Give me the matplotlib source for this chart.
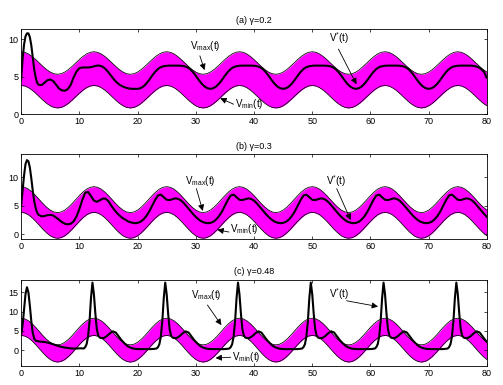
import matplotlib
matplotlib.use("Agg")
import matplotlib.pyplot as plt
import numpy as np

plt.rcParams["font.family"] = ["Liberation Sans", "DejaVu Sans"]
plt.rcParams["mathtext.default"] = "regular"

# --- Datos ---
# malla de tiempo de las bandas (paso 0.625)
t_banda = np.arange(0, 80.001, 0.625)

vmax_a = [
    8.35, 8.28, 8.06, 7.73, 7.31, 6.85, 6.39, 5.97, 5.64, 5.42, 5.35, 5.42, 5.64, 5.97, 6.39, 6.85, 7.31, 7.73, 8.06, 8.28,
    8.35, 8.28, 8.06, 7.73, 7.31, 6.85, 6.39, 5.97, 5.64, 5.42, 5.35, 5.42, 5.64, 5.97, 6.39, 6.85, 7.31, 7.73, 8.06, 8.28,
    8.35, 8.28, 8.06, 7.73, 7.31, 6.85, 6.39, 5.97, 5.64, 5.42, 5.35, 5.42, 5.64, 5.97, 6.39, 6.85, 7.31, 7.73, 8.06, 8.28,
    8.35, 8.28, 8.06, 7.73, 7.31, 6.85, 6.39, 5.97, 5.64, 5.42, 5.35, 5.42, 5.64, 5.97, 6.39, 6.85, 7.31, 7.73, 8.06, 8.28,
    8.35, 8.28, 8.06, 7.73, 7.31, 6.85, 6.39, 5.97, 5.64, 5.42, 5.35, 5.42, 5.64, 5.97, 6.39, 6.85, 7.31, 7.73, 8.06, 8.28,
    8.35, 8.28, 8.06, 7.73, 7.31, 6.85, 6.39, 5.97, 5.64, 5.42, 5.35, 5.42, 5.64, 5.97, 6.39, 6.85, 7.31, 7.73, 8.06, 8.28,
    8.35, 8.28, 8.06, 7.73, 7.31, 6.85, 6.39, 5.97, 5.64,
]
vmin_a = [
    3.85, 3.78, 3.56, 3.23, 2.81, 2.35, 1.89, 1.47, 1.14, 0.92, 0.85, 0.92, 1.14, 1.47, 1.89, 2.35, 2.81, 3.23, 3.56, 3.78,
    3.85, 3.78, 3.56, 3.23, 2.81, 2.35, 1.89, 1.47, 1.14, 0.92, 0.85, 0.92, 1.14, 1.47, 1.89, 2.35, 2.81, 3.23, 3.56, 3.78,
    3.85, 3.78, 3.56, 3.23, 2.81, 2.35, 1.89, 1.47, 1.14, 0.92, 0.85, 0.92, 1.14, 1.47, 1.89, 2.35, 2.81, 3.23, 3.56, 3.78,
    3.85, 3.78, 3.56, 3.23, 2.81, 2.35, 1.89, 1.47, 1.14, 0.92, 0.85, 0.92, 1.14, 1.47, 1.89, 2.35, 2.81, 3.23, 3.56, 3.78,
    3.85, 3.78, 3.56, 3.23, 2.81, 2.35, 1.89, 1.47, 1.14, 0.92, 0.85, 0.92, 1.14, 1.47, 1.89, 2.35, 2.81, 3.23, 3.56, 3.78,
    3.85, 3.78, 3.56, 3.23, 2.81, 2.35, 1.89, 1.47, 1.14, 0.92, 0.85, 0.92, 1.14, 1.47, 1.89, 2.35, 2.81, 3.23, 3.56, 3.78,
    3.85, 3.78, 3.56, 3.23, 2.81, 2.35, 1.89, 1.47, 1.14,
]

vmax_b = [
    8.35, 8.24, 7.92, 7.41, 6.78, 6.08, 5.38, 4.75, 4.24, 3.92, 3.81, 3.92, 4.24, 4.75, 5.38, 6.08, 6.78, 7.41, 7.92, 8.24,
    8.35, 8.24, 7.92, 7.41, 6.78, 6.08, 5.38, 4.75, 4.24, 3.92, 3.81, 3.92, 4.24, 4.75, 5.38, 6.08, 6.78, 7.41, 7.92, 8.24,
    8.35, 8.24, 7.92, 7.41, 6.78, 6.08, 5.38, 4.75, 4.24, 3.92, 3.81, 3.92, 4.24, 4.75, 5.38, 6.08, 6.78, 7.41, 7.92, 8.24,
    8.35, 8.24, 7.92, 7.41, 6.78, 6.08, 5.38, 4.75, 4.24, 3.92, 3.81, 3.92, 4.24, 4.75, 5.38, 6.08, 6.78, 7.41, 7.92, 8.24,
    8.35, 8.24, 7.92, 7.41, 6.78, 6.08, 5.38, 4.75, 4.24, 3.92, 3.81, 3.92, 4.24, 4.75, 5.38, 6.08, 6.78, 7.41, 7.92, 8.24,
    8.35, 8.24, 7.92, 7.41, 6.78, 6.08, 5.38, 4.75, 4.24, 3.92, 3.81, 3.92, 4.24, 4.75, 5.38, 6.08, 6.78, 7.41, 7.92, 8.24,
    8.35, 8.24, 7.92, 7.41, 6.78, 6.08, 5.38, 4.75, 4.24,
]
vmin_b = [
    3.85, 3.74, 3.42, 2.91, 2.28, 1.58, 0.88, 0.25, -0.26, -0.58, -0.69, -0.58, -0.26, 0.25, 0.88, 1.58, 2.28, 2.91, 3.42, 3.74,
    3.85, 3.74, 3.42, 2.91, 2.28, 1.58, 0.88, 0.25, -0.26, -0.58, -0.69, -0.58, -0.26, 0.25, 0.88, 1.58, 2.28, 2.91, 3.42, 3.74,
    3.85, 3.74, 3.42, 2.91, 2.28, 1.58, 0.88, 0.25, -0.26, -0.58, -0.69, -0.58, -0.26, 0.25, 0.88, 1.58, 2.28, 2.91, 3.42, 3.74,
    3.85, 3.74, 3.42, 2.91, 2.28, 1.58, 0.88, 0.25, -0.26, -0.58, -0.69, -0.58, -0.26, 0.25, 0.88, 1.58, 2.28, 2.91, 3.42, 3.74,
    3.85, 3.74, 3.42, 2.91, 2.28, 1.58, 0.88, 0.25, -0.26, -0.58, -0.69, -0.58, -0.26, 0.25, 0.88, 1.58, 2.28, 2.91, 3.42, 3.74,
    3.85, 3.74, 3.42, 2.91, 2.28, 1.58, 0.88, 0.25, -0.26, -0.58, -0.69, -0.58, -0.26, 0.25, 0.88, 1.58, 2.28, 2.91, 3.42, 3.74,
    3.85, 3.74, 3.42, 2.91, 2.28, 1.58, 0.88, 0.25, -0.26,
]

vmax_c = [
    8.30, 8.13, 7.64, 6.88, 5.92, 4.85, 3.78, 2.82, 2.06, 1.57, 1.40, 1.57, 2.06, 2.82, 3.78, 4.85, 5.92, 6.88, 7.64, 8.13,
    8.30, 8.13, 7.64, 6.88, 5.92, 4.85, 3.78, 2.82, 2.06, 1.57, 1.40, 1.57, 2.06, 2.82, 3.78, 4.85, 5.92, 6.88, 7.64, 8.13,
    8.30, 8.13, 7.64, 6.88, 5.92, 4.85, 3.78, 2.82, 2.06, 1.57, 1.40, 1.57, 2.06, 2.82, 3.78, 4.85, 5.92, 6.88, 7.64, 8.13,
    8.30, 8.13, 7.64, 6.88, 5.92, 4.85, 3.78, 2.82, 2.06, 1.57, 1.40, 1.57, 2.06, 2.82, 3.78, 4.85, 5.92, 6.88, 7.64, 8.13,
    8.30, 8.13, 7.64, 6.88, 5.92, 4.85, 3.78, 2.82, 2.06, 1.57, 1.40, 1.57, 2.06, 2.82, 3.78, 4.85, 5.92, 6.88, 7.64, 8.13,
    8.30, 8.13, 7.64, 6.88, 5.92, 4.85, 3.78, 2.82, 2.06, 1.57, 1.40, 1.57, 2.06, 2.82, 3.78, 4.85, 5.92, 6.88, 7.64, 8.13,
    8.30, 8.13, 7.64, 6.88, 5.92, 4.85, 3.78, 2.82, 2.06,
]
vmin_c = [
    3.85, 3.68, 3.19, 2.43, 1.47, 0.40, -0.67, -1.63, -2.39, -2.88, -3.05, -2.88, -2.39, -1.63, -0.67, 0.40, 1.47, 2.43, 3.19, 3.68,
    3.85, 3.68, 3.19, 2.43, 1.47, 0.40, -0.67, -1.63, -2.39, -2.88, -3.05, -2.88, -2.39, -1.63, -0.67, 0.40, 1.47, 2.43, 3.19, 3.68,
    3.85, 3.68, 3.19, 2.43, 1.47, 0.40, -0.67, -1.63, -2.39, -2.88, -3.05, -2.88, -2.39, -1.63, -0.67, 0.40, 1.47, 2.43, 3.19, 3.68,
    3.85, 3.68, 3.19, 2.43, 1.47, 0.40, -0.67, -1.63, -2.39, -2.88, -3.05, -2.88, -2.39, -1.63, -0.67, 0.40, 1.47, 2.43, 3.19, 3.68,
    3.85, 3.68, 3.19, 2.43, 1.47, 0.40, -0.67, -1.63, -2.39, -2.88, -3.05, -2.88, -2.39, -1.63, -0.67, 0.40, 1.47, 2.43, 3.19, 3.68,
    3.85, 3.68, 3.19, 2.43, 1.47, 0.40, -0.67, -1.63, -2.39, -2.88, -3.05, -2.88, -2.39, -1.63, -0.67, 0.40, 1.47, 2.43, 3.19, 3.68,
    3.85, 3.68, 3.19, 2.43, 1.47, 0.40, -0.67, -1.63, -2.39,
]

# malla de V*(t) en (a) y (b): fina al principio, luego paso 0.5
t_ab = np.concatenate([np.arange(0, 3.01, 0.25), np.arange(3.5, 80.01, 0.5)])

vstar_a = [
    4.7, 7.3, 9.3, 10.4, 10.8, 10.8, 10.3, 9.2, 7.6, 6.0, 4.9, 4.2, 3.95,
    3.9, 4.2, 4.55, 4.65, 4.45, 3.95, 3.45, 3.2, 3.15, 3.35, 3.9, 4.9, 5.7, 6.15, 6.25, 6.25, 6.25, 6.3, 6.4, 6.5,
    6.5, 6.35, 6.05, 5.6, 5.1, 4.6, 4.2, 3.9, 3.7, 3.55, 3.45, 3.4, 3.4,
    3.40, 3.48, 3.72, 4.10, 4.60, 5.15, 5.65, 6.05, 6.30, 6.42, 6.48, 6.50, 6.50, 6.50, 6.50, 6.48, 6.42, 6.30, 6.05, 5.65, 5.15, 4.60, 4.10, 3.72, 3.48,
    3.40, 3.48, 3.72, 4.10, 4.60, 5.15, 5.65, 6.05, 6.30, 6.42, 6.48, 6.50, 6.50, 6.50, 6.50, 6.48, 6.42, 6.30, 6.05, 5.65, 5.15, 4.60, 4.10, 3.72, 3.48,
    3.40, 3.48, 3.72, 4.10, 4.60, 5.15, 5.65, 6.05, 6.30, 6.42, 6.48, 6.50, 6.50, 6.50, 6.50, 6.48, 6.42, 6.30, 6.05, 5.65, 5.15, 4.60, 4.10, 3.72, 3.48,
    3.40, 3.48, 3.72, 4.10, 4.60, 5.15, 5.65, 6.05, 6.30, 6.42, 6.48, 6.50, 6.50, 6.50, 6.50, 6.48, 6.42, 6.30, 6.05, 5.65, 5.15, 4.60, 4.10, 3.72, 3.48,
    3.40, 3.48, 3.72, 4.10, 4.60, 5.15, 5.65, 6.05, 6.30, 6.42, 6.48, 6.50, 6.50, 6.50, 6.50, 6.48, 6.42, 6.30, 6.05, 5.65, 4.9,
]

vstar_b = [
    5.0, 7.6, 10.3, 12.3, 13.0, 12.8, 11.7, 9.8, 7.6, 5.8, 4.6, 3.8, 3.4,
    3.15, 3.2, 3.35, 3.4, 3.3, 2.95, 2.55, 2.15, 1.85, 1.75, 1.85, 2.25, 3.1, 4.4, 6.0, 7.3,
    7.4, 6.7, 5.9, 5.7, 5.95, 6.25, 6.25, 5.8, 5.0, 4.3, 3.7, 3.2, 2.8, 2.5, 2.2, 2.05,
    1.95, 2.0, 2.2, 2.6, 3.2, 4.0, 5.0, 6.0, 6.8, 6.95, 6.5, 6.05, 6.0, 6.15, 6.3, 6.2, 5.9, 5.4, 4.8, 4.2, 3.6, 3.05, 2.6, 2.25, 2.05,
    1.95, 2.0, 2.2, 2.6, 3.2, 4.0, 5.0, 6.0, 6.8, 6.95, 6.5, 6.05, 6.0, 6.15, 6.3, 6.2, 5.9, 5.4, 4.8, 4.2, 3.6, 3.05, 2.6, 2.25, 2.05,
    1.95, 2.0, 2.2, 2.6, 3.2, 4.0, 5.0, 6.0, 6.8, 6.95, 6.5, 6.05, 6.0, 6.15, 6.3, 6.2, 5.9, 5.4, 4.8, 4.2, 3.6, 3.05, 2.6, 2.25, 2.05,
    1.95, 2.0, 2.2, 2.6, 3.2, 4.0, 5.0, 6.0, 6.8, 6.95, 6.5, 6.05, 6.0, 6.15, 6.3, 6.2, 5.9, 5.4, 4.8, 4.2, 3.6, 3.05, 2.6, 2.25, 2.05,
    1.95, 2.0, 2.2, 2.6, 3.2, 4.0, 5.0, 6.0, 6.8, 6.95, 6.5, 6.05, 6.0, 6.15, 6.3, 6.2, 5.9, 5.4, 4.8, 4.2, 3.6, 3.05,
]

# (c): picos estrechos, malla no uniforme
t_c = [
    0, 0.25, 0.5, 0.75, 1.0, 1.25, 1.5, 1.75, 2.0, 2.25, 2.5, 3.0, 3.5, 4.0, 4.5, 5.0, 5.5, 6.0, 6.5, 7.0, 7.5, 8.0, 8.5, 9.0, 9.5, 10.0, 10.5,
    10.75, 11.0, 11.25, 11.5, 11.75, 12.0, 12.25, 12.5, 12.75, 13.0, 13.25, 13.5, 13.75, 14.25, 14.75, 15.25, 15.75,
    16.25, 16.75, 17.25, 17.75, 18.25, 18.75, 19.25, 19.75, 20.25, 20.75, 21.25, 21.75, 22.25, 22.75,
    23.25, 23.5, 23.75, 24.0, 24.25, 24.5, 24.75, 25.0, 25.25, 25.5, 25.75, 26.0, 26.25, 26.75, 27.25, 27.75, 28.25,
    28.75, 29.25, 29.75, 30.25, 30.75, 31.25, 31.75, 32.25, 32.75, 33.25, 33.75, 34.25, 34.75, 35.25,
    35.75, 36.0, 36.25, 36.5, 36.75, 37.0, 37.25, 37.5, 37.75, 38.0, 38.25, 38.5, 38.75, 39.25, 39.75, 40.25, 40.75,
    41.25, 41.75, 42.25, 42.75, 43.25, 43.75, 44.25, 44.75, 45.25, 45.75, 46.25, 46.75, 47.25, 47.75,
    48.25, 48.5, 48.75, 49.0, 49.25, 49.5, 49.75, 50.0, 50.25, 50.5, 50.75, 51.0, 51.25, 51.75, 52.25, 52.75, 53.25,
    53.75, 54.25, 54.75, 55.25, 55.75, 56.25, 56.75, 57.25, 57.75, 58.25, 58.75, 59.25, 59.75, 60.25,
    60.75, 61.0, 61.25, 61.5, 61.75, 62.0, 62.25, 62.5, 62.75, 63.0, 63.25, 63.5, 63.75, 64.25, 64.75, 65.25, 65.75,
    66.25, 66.75, 67.25, 67.75, 68.25, 68.75, 69.25, 69.75, 70.25, 70.75, 71.25, 71.75, 72.25, 72.75,
    73.25, 73.5, 73.75, 74.0, 74.25, 74.5, 74.75, 75.0, 75.25, 75.5, 75.75, 76.0, 76.25, 76.75, 77.25, 77.75, 78.25,
    78.75, 79.25, 79.75, 80.0,
]
vstar_c = [
    3.9, 6.5, 10.5, 14.5, 16.3, 15.0, 11.5, 7.5, 4.5, 3.0, 2.5, 2.3, 2.2, 2.15, 2.0, 1.8, 1.55, 1.3, 1.05, 0.85, 0.7, 0.6, 0.5, 0.45, 0.45, 0.5, 0.5,
    0.45, 0.8, 1.6, 3.6, 7.5, 13.5, 17.5, 14.5, 9.5, 5.5, 3.8, 3.3, 3.15, 3.2, 3.7, 4.4, 4.9,
    4.6, 3.6, 2.6, 1.8, 1.1, 0.7, 0.45, 0.35, 0.3, 0.3, 0.3, 0.3, 0.3, 0.35,
    0.45, 0.8, 1.6, 3.6, 7.5, 13.5, 17.5, 14.5, 9.5, 5.5, 3.8, 3.3, 3.15, 3.2, 3.7, 4.4, 4.9,
    4.6, 3.6, 2.6, 1.8, 1.1, 0.7, 0.45, 0.35, 0.3, 0.3, 0.3, 0.3, 0.3, 0.35,
    0.45, 0.8, 1.6, 3.6, 7.5, 13.5, 17.5, 14.5, 9.5, 5.5, 3.8, 3.3, 3.15, 3.2, 3.7, 4.4, 4.9,
    4.6, 3.6, 2.6, 1.8, 1.1, 0.7, 0.45, 0.35, 0.3, 0.3, 0.3, 0.3, 0.3, 0.35,
    0.45, 0.8, 1.6, 3.6, 7.5, 13.5, 17.5, 14.5, 9.5, 5.5, 3.8, 3.3, 3.15, 3.2, 3.7, 4.4, 4.9,
    4.6, 3.6, 2.6, 1.8, 1.1, 0.7, 0.45, 0.35, 0.3, 0.3, 0.3, 0.3, 0.3, 0.35,
    0.45, 0.8, 1.6, 3.6, 7.5, 13.5, 17.5, 14.5, 9.5, 5.5, 3.8, 3.3, 3.15, 3.2, 3.7, 4.4, 4.9,
    4.6, 3.6, 2.6, 1.8, 1.1, 0.7, 0.45, 0.35, 0.3, 0.3, 0.3, 0.3, 0.3, 0.35,
    0.45, 0.8, 1.6, 3.6, 7.5, 13.5, 17.5, 14.5, 9.5, 5.5, 3.8, 3.3, 3.15, 3.2, 3.7, 4.4, 4.9,
    4.6, 3.6, 2.6, 2.2,
]

titulos = ["(a) γ=0.2", "(b) γ=0.3", "(c) γ=0.48"]
limites_y = [(0, 11.4), (-0.9, 14.0), (-4.1, 18.3)]
ticks_y = [[0, 5, 10], [0, 5, 10], [0, 5, 10, 15]]

# etiquetas: (texto, posicion texto, cola flecha, punta flecha)
etiquetas = [
    [("V$_{max}$(t)", (29.0, 8.7), (30.7, 7.8), (31.5, 5.9)),
     ("V$_{min}$(t)", (36.8, 0.95), (36.5, 1.35), (34.2, 2.15)),
     ("V$^{*}$(t)", (52.8, 9.6), (54.5, 8.7), (57.6, 4.0))],
    [("V$_{max}$(t)", (28.2, 8.9), (30.1, 8.0), (31.2, 4.1)),
     ("V$_{min}$(t)", (35.9, 0.4), (35.7, 0.4), (33.7, 0.8)),
     ("V$^{*}$(t)", (52.4, 8.65), (54.2, 8.0), (56.6, 2.5))],
    [("V$_{max}$(t)", (29.2, 13.4), (32.0, 11.7), (34.4, 6.5)),
     ("V$_{min}$(t)", (36.2, -2.5), (36.0, -1.8), (33.4, -2.0)),
     ("V$^{*}$(t)", (52.9, 13.4), (55.9, 12.8), (61.3, 11.3))],
]

# --- Figura ---
fig = plt.figure(figsize=(5.03, 3.85), dpi=100)
posiciones = [
    [0.042, 0.703, 0.926, 0.222],
    [0.042, 0.378, 0.926, 0.221],
    [0.042, 0.049, 0.926, 0.225],
]
bandas = [(vmax_a, vmin_a), (vmax_b, vmin_b), (vmax_c, vmin_c)]
curvas = [(t_ab, vstar_a), (t_ab, vstar_b), (t_c, vstar_c)]

for i in range(3):
    ax = fig.add_axes(posiciones[i])
    vmax, vmin = bandas[i]
    tv, vs = curvas[i]
    ax.fill_between(t_banda, vmin, vmax, color="#ff00ff", lw=0)
    ax.plot(t_banda, vmax, color="k", lw=0.55)
    ax.plot(t_banda, vmin, color="k", lw=0.55)
    ax.plot(tv, vs, color="k", lw=1.5)

    ax.set_xlim(0, 80)
    ax.set_ylim(*limites_y[i])
    ax.set_xticks(range(0, 81, 10))
    ax.set_yticks(ticks_y[i])
    ax.tick_params(direction="in", top=True, right=True, length=2.5, width=0.5,
                   labelsize=6.5, pad=2)
    for s in ax.spines.values():
        s.set_linewidth(0.6)
    ax.set_title(titulos[i], fontsize=6.5, pad=4)

    for texto, pos, cola, punta in etiquetas[i]:
        ax.text(pos[0], pos[1], texto, fontsize=7, va="baseline", ha="left")
        ax.annotate("", xy=punta, xytext=cola,
                    arrowprops=dict(arrowstyle="-|>", color="k", lw=0.6,
                                    mutation_scale=9, shrinkA=0, shrinkB=0))

fig.savefig("out.png", dpi=100)
